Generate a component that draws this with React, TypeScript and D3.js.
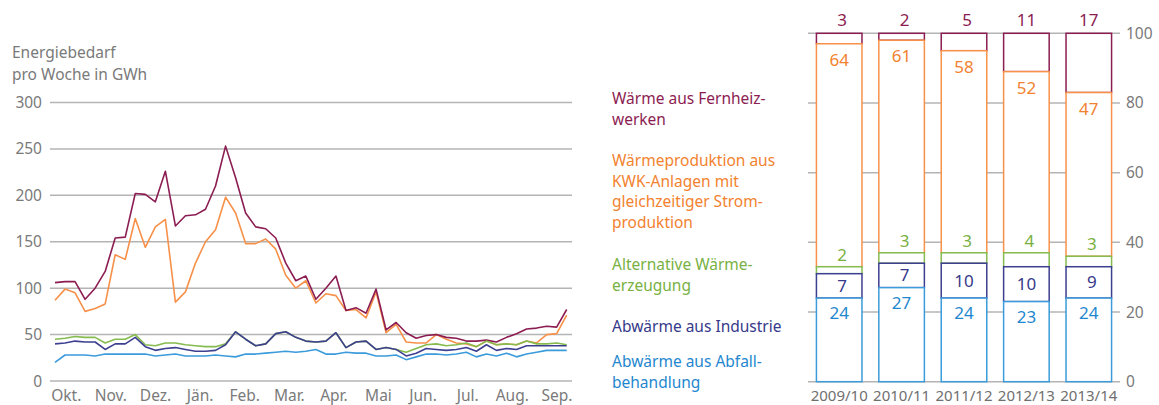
import React from 'react';
import * as d3 from 'd3';

// ---------- Left chart data (weekly energy demand, GWh) ----------
const months = ['Okt.', 'Nov.', 'Dez.', 'Jän.', 'Feb.', 'Mar.', 'Apr.', 'Mai', 'Jun.', 'Jul.', 'Aug.', 'Sep.'];
const yTicksLeft = [0, 50, 100, 150, 200, 250, 300];

const fernheizwerke = [106, 107, 107, 88, 100, 118, 154, 155, 202, 201, 193, 226, 167, 178, 179, 185, 210, 253, 219, 181, 166, 164, 154, 127, 108, 113, 88, 100, 113, 76, 79, 73, 99, 55, 63, 52, 46, 49, 50, 47, 46, 43, 43, 44, 42, 47, 51, 56, 57, 59, 58, 77];
const kwk = [87, 99, 95, 75, 78, 83, 136, 131, 175, 144, 166, 174, 85, 96, 127, 150, 163, 198, 181, 148, 148, 153, 142, 114, 100, 108, 84, 94, 92, 76, 77, 68, 96, 52, 61, 42, 41, 41, 50, 45, 41, 40, 37, 43, 39, 40, 39, 43, 41, 50, 51, 71];
const alternative = [45, 46, 48, 47, 47, 41, 45, 45, 50, 39, 38, 41, 41, 39, 38, 37, 37, 40, 53, 45, 38, 40, 51, 53, 47, 43, 42, 43, 52, 36, 42, 43, 34, 36, 34, 31, 35, 39, 40, 38, 39, 41, 37, 43, 39, 40, 39, 43, 40, 40, 41, 39];
const industrie = [40, 41, 43, 42, 42, 34, 40, 40, 47, 37, 33, 35, 36, 34, 32, 32, 33, 39, 53, 45, 38, 40, 51, 53, 47, 43, 42, 43, 52, 36, 42, 43, 34, 36, 34, 27, 30, 35, 34, 33, 34, 36, 32, 39, 33, 35, 34, 38, 38, 38, 38, 38];
const abfall = [20, 28, 28, 28, 27, 29, 29, 29, 29, 29, 27, 28, 29, 27, 27, 27, 28, 27, 26, 29, 29, 30, 31, 32, 31, 32, 34, 29, 29, 31, 30, 30, 27, 27, 28, 23, 26, 29, 29, 28, 29, 31, 26, 29, 27, 30, 26, 29, 31, 33, 33, 33];

// ---------- Right chart data (shares in %) ----------
const years = ['2009/10', '2010/11', '2011/12', '2012/13', '2013/14'];
const yTicksRight = [0, 20, 40, 60, 80, 100];
const shareAbfall = [24, 27, 24, 23, 24];
const shareIndustrie = [7, 7, 10, 10, 9];
const shareAlternative = [2, 3, 3, 4, 3];
const shareKwk = [64, 61, 58, 52, 47];
const shareFernheiz = [3, 2, 5, 11, 17];

// ---------- Legend ----------
const legendFernheiz = ['Wärme aus Fernheiz-', 'werken'];
const legendKwk = ['Wärmeproduktion aus', 'KWK-Anlagen mit', 'gleichzeitiger Strom-', 'produktion'];
const legendAlternative = ['Alternative Wärme-', 'erzeugung'];
const legendIndustrie = ['Abwärme aus Industrie'];
const legendAbfall = ['Abwärme aus Abfall-', 'behandlung'];

const C = {
  fern: '#8c1d52',
  kwk: '#f7914a',
  kwkText: '#f2822f',
  alt: '#85bb4f',
  altText: '#78b142',
  ind: '#3d3f91',
  indText: '#363a8a',
  abf: '#3b9bdb',
  abfText: '#1f87cf',
  grid: '#b4b4b4',
  axisText: '#7a7a7a',
};

const FONT = "'Noto Sans', 'Open Sans', sans-serif";

export default function App() {
  // Left chart scales
  const x = d3.scaleLinear().domain([0, fernheizwerke.length - 1]).range([55, 566.7]);
  const y = d3.scaleLinear().domain([0, 300]).range([381, 102.5]);
  const xMonth = d3.scaleBand<string>().domain(months).range([44, 579.2]);
  const line = d3.line<number>().x((_, i) => x(i)).y((d) => y(d));

  const series = [
    { data: kwk, color: C.kwk },
    { data: fernheizwerke, color: C.fern },
    { data: alternative, color: C.alt },
    { data: industrie, color: C.ind },
    { data: abfall, color: C.abf },
  ];

  // Right chart scales
  const xb = d3.scaleBand<string>().domain(years).range([808, 1120]).paddingInner(0.27).paddingOuter(0.135);
  const yr = d3.scaleLinear().domain([0, 100]).range([381.7, 33.3]);

  const keys = ['abf', 'ind', 'alt', 'kwk', 'fern'];
  const table = years.map((yr_, i) => ({
    year: yr_,
    abf: shareAbfall[i],
    ind: shareIndustrie[i],
    alt: shareAlternative[i],
    kwk: shareKwk[i],
    fern: shareFernheiz[i],
  }));
  const stacked = d3.stack<any>().keys(keys)(table);
  const segColor: Record<string, string> = { abf: C.abf, ind: C.ind, alt: C.alt, kwk: C.kwk, fern: C.fern };
  const labColor: Record<string, string> = { abf: C.abfText, ind: C.indText, alt: C.altText, kwk: C.kwkText, fern: C.fern };

  const labelY = (key: string, lo: number, hi: number) => {
    const top = yr(hi);
    const bot = yr(lo);
    switch (key) {
      case 'fern': return yr(100) - 7;
      case 'kwk': return top + 22;
      case 'alt': return top - 6;
      case 'ind': return (top + bot) / 2 + 6;
      default: return top + 21;
    }
  };

  const legendBlocks = [
    { lines: legendFernheiz, color: C.fern, ys: [104, 125] },
    { lines: legendKwk, color: C.kwkText, ys: [166, 187, 207, 228] },
    { lines: legendAlternative, color: C.altText, ys: [270, 291] },
    { lines: legendIndustrie, color: C.indText, ys: [332] },
    { lines: legendAbfall, color: C.abfText, ys: [367, 388] },
  ];

  return (
    <svg width={1159} height={405} style={{ position: 'absolute', left: 0, top: 0, background: '#fff' }} fontFamily={FONT}>
      {/* Left title */}
      <text x={12} y={58} fontSize={15.5} fill={C.axisText}>Energiebedarf</text>
      <text x={12} y={80} fontSize={15.5} fill={C.axisText}>pro Woche in GWh</text>

      {/* Left grid + ticks */}
      {yTicksLeft.map((t) => (
        <g key={t}>
          <line x1={50} x2={572} y1={y(t)} y2={y(t)} stroke={C.grid} strokeWidth={1.5} />
          <text x={42} y={y(t) + 5.5} textAnchor="end" fontSize={15.5} fill={C.axisText}>{t}</text>
        </g>
      ))}
      {months.map((m) => (
        <text key={m} x={(xMonth(m) as number) + xMonth.bandwidth() / 2} y={401} textAnchor="middle" fontSize={15.5} fill={C.axisText}>{m}</text>
      ))}

      {/* Lines */}
      {series.map((s, i) => (
        <path key={i} d={line(s.data) as string} fill="none" stroke={s.color} strokeWidth={1.6} strokeLinejoin="round" />
      ))}

      {/* Legend */}
      {legendBlocks.map((b, bi) =>
        b.lines.map((l, li) => (
          <text key={`${bi}-${li}`} x={612} y={b.ys[li]} fontSize={15.5} fill={b.color}>{l}</text>
        ))
      )}

      {/* Right grid */}
      {yTicksRight.map((t) => (
        <g key={t}>
          <line x1={808} x2={1120} y1={yr(t)} y2={yr(t)} stroke={C.grid} strokeWidth={1.5} />
          <text x={1126} y={yr(t) + 5.5} fontSize={15.5} fill={C.axisText}>{t}</text>
        </g>
      ))}

      {/* Bars: draw top series first so lower segment outlines sit on top */}
      {[...stacked].reverse().map((s) => (
        <g key={s.key}>
          {s.map((d, i) => (
            <rect
              key={i}
              x={xb(years[i])}
              width={xb.bandwidth()}
              y={yr(d[1])}
              height={yr(d[0]) - yr(d[1])}
              fill="#fff"
              stroke={segColor[s.key]}
              strokeWidth={1.5}
            />
          ))}
        </g>
      ))}

      {/* Bar labels */}
      {stacked.map((s) => (
        <g key={`l-${s.key}`}>
          {s.map((d, i) => {
            const v = d[1] - d[0];
            const cx = (xb(years[i]) as number) + xb.bandwidth() / 2 + (v < 10 ? 3 : 0);
            return (
              <text key={i} x={cx} y={labelY(s.key, d[0], d[1])} textAnchor="middle" fontSize={17} fill={labColor[s.key]}>
                {Math.round(v)}
              </text>
            );
          })}
        </g>
      ))}

      {/* Year labels */}
      {years.map((yy) => (
        <text key={yy} x={(xb(yy) as number) + xb.bandwidth() / 2} y={401} textAnchor="middle" fontSize={15} fill="#6f6f6f">{yy}</text>
      ))}
    </svg>
  );
}
